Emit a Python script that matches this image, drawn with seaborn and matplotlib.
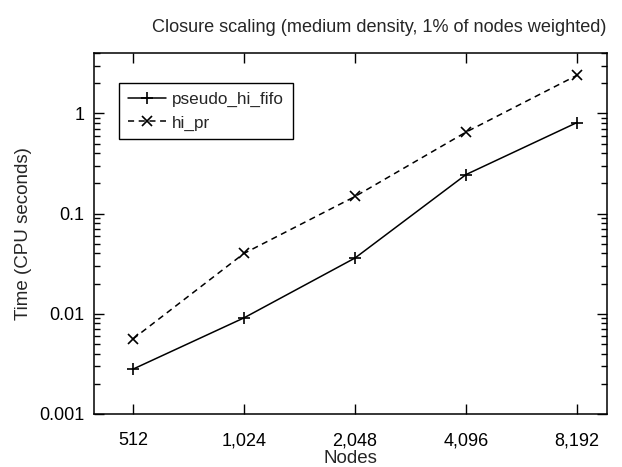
import matplotlib
matplotlib.use("Agg")
import matplotlib.pyplot as plt
import matplotlib.ticker as mticker
import seaborn as sns
import pandas as pd

nodes = [512, 1024, 2048, 4096, 8192]
tick_labels = ["512", "1,024", "2,048", "4,096", "8,192"]
pseudo_hi_fifo = [0.0028, 0.0091, 0.036, 0.245, 0.81]
hi_pr = [0.0056, 0.040, 0.148, 0.65, 2.4]

df1 = pd.DataFrame({"Nodes": nodes, "Time": pseudo_hi_fifo})
df2 = pd.DataFrame({"Nodes": nodes, "Time": hi_pr})

sns.set_style("ticks")
plt.rcParams["font.family"] = ["Liberation Sans", "DejaVu Sans"]

fig = plt.figure(figsize=(6.22, 4.67), dpi=100)
ax = fig.add_axes([0.151, 0.1135, 0.825, 0.773])

sns.lineplot(data=df1, x="Nodes", y="Time", color="black", marker="+",
             markersize=8, markeredgewidth=1.2, markeredgecolor="black",
             linewidth=1.1, linestyle="-", label="pseudo_hi_fifo", ax=ax)
sns.lineplot(data=df2, x="Nodes", y="Time", color="black", marker="x",
             markersize=7, markeredgewidth=1.2, markeredgecolor="black",
             linewidth=1.1, linestyle=(0, (4, 3)), label="hi_pr", ax=ax)

ax.set_xscale("log", base=2)
ax.set_yscale("log")
ax.set_xlim(2 ** 8.649, 2 ** 13.27)
ax.set_ylim(0.001, 4)
ax.set_xticks(nodes)
ax.set_xticklabels(tick_labels)
ax.xaxis.set_minor_locator(mticker.NullLocator())
ax.set_yticks([0.001, 0.01, 0.1, 1])
ax.set_yticklabels(["0.001", "0.01", "0.1", "1"])
ax.yaxis.set_minor_locator(mticker.LogLocator(base=10, subs=range(2, 10), numticks=20))
ax.yaxis.set_minor_formatter(mticker.NullFormatter())

ax.tick_params(which="both", direction="in", top=True, right=True, colors="black",
               labelsize=13, width=1)
ax.tick_params(which="major", length=7)
ax.tick_params(axis="x", which="major", pad=13)
ax.tick_params(axis="y", which="major", pad=7)
ax.tick_params(which="minor", length=4)
for s in ax.spines.values():
    s.set_color("black")
    s.set_linewidth(1.1)

ax.set_xlabel("Nodes", fontsize=13.5, labelpad=1)
ax.set_ylabel("Time (CPU seconds)", fontsize=13.5, labelpad=5)
ax.set_title("Closure scaling (medium density, 1% of nodes weighted)", fontsize=13.1, pad=15, x=0.555)

leg = ax.legend(loc="upper left", bbox_to_anchor=(0.033, 0.94), frameon=True, fancybox=False,
                fontsize=12.3, handlelength=2.2, borderpad=0.5, labelspacing=0.5,
                handletextpad=0.4)
leg.get_frame().set_edgecolor("black")
leg.get_frame().set_linewidth(1.0)
leg.get_frame().set_alpha(1)

fig.savefig("out.png", dpi=100)
